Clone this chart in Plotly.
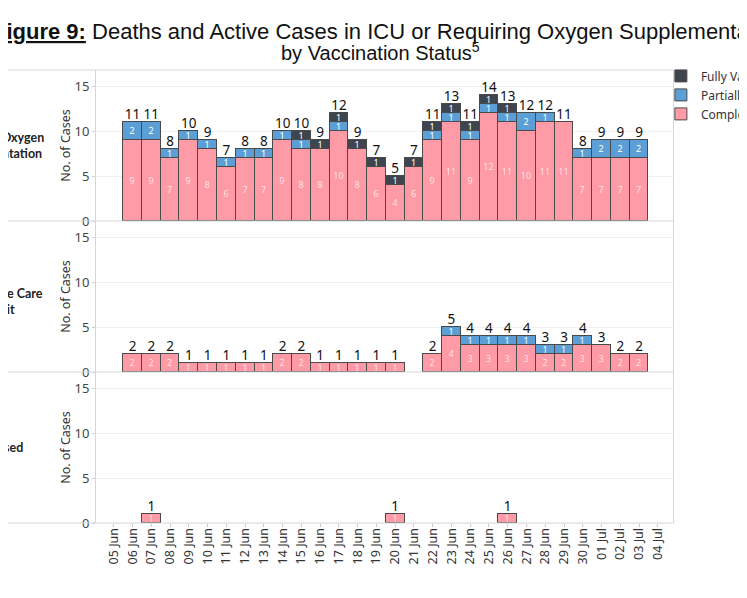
import plotly.graph_objects as go
from plotly.subplots import make_subplots

# ---- data ----
dates = ["05 Jun", "06 Jun", "07 Jun", "08 Jun", "09 Jun", "10 Jun", "11 Jun", "12 Jun",
         "13 Jun", "14 Jun", "15 Jun", "16 Jun", "17 Jun", "18 Jun", "19 Jun", "20 Jun",
         "21 Jun", "22 Jun", "23 Jun", "24 Jun", "25 Jun", "26 Jun", "27 Jun", "28 Jun",
         "29 Jun", "30 Jun", "01 Jul", "02 Jul", "03 Jul", "04 Jul"]

series_names = ["Completely Unvaccinated", "Partially Vaccinated", "Fully Vaccinated"]

oxy_unvax   = [0, 9, 9, 7, 9, 8, 6, 7, 7, 9, 8, 8, 10, 8, 6, 4, 6, 9, 11, 9, 12, 11, 10, 11, 11, 7, 7, 7, 7, 0]
oxy_partial = [0, 2, 2, 1, 1, 1, 1, 1, 1, 1, 1, 0, 1, 0, 0, 0, 0, 1, 1, 1, 1, 1, 2, 1, 0, 1, 2, 2, 2, 0]
oxy_full    = [0, 0, 0, 0, 0, 0, 0, 0, 0, 0, 1, 1, 1, 1, 1, 1, 1, 1, 1, 1, 1, 1, 0, 0, 0, 0, 0, 0, 0, 0]

icu_unvax   = [0, 2, 2, 2, 1, 1, 1, 1, 1, 2, 2, 1, 1, 1, 1, 1, 0, 2, 4, 3, 3, 3, 3, 2, 2, 3, 3, 2, 2, 0]
icu_partial = [0, 0, 0, 0, 0, 0, 0, 0, 0, 0, 0, 0, 0, 0, 0, 0, 0, 0, 1, 1, 1, 1, 1, 1, 1, 1, 0, 0, 0, 0]
icu_full    = [0] * 30

dec_unvax   = [0, 0, 1, 0, 0, 0, 0, 0, 0, 0, 0, 0, 0, 0, 0, 1, 0, 0, 0, 0, 0, 1, 0, 0, 0, 0, 0, 0, 0, 0]
dec_partial = [0] * 30
dec_full    = [0] * 30

row_labels = ["Requiring Oxygen<br>Supplementation", "Intensive Care<br>Unit", "Deceased"]
y_ticks = [0, 5, 10, 15]

# ---- styling ----
colors = ["#FF9BA6", "#5B9FD6", "#3F454F"]
inner_text_colors = ["rgba(255,255,255,0.72)", "white", "white"]
FONT = "Noto Sans, DejaVu Sans, sans-serif"
LABEL_FONT = "Lato, Noto Sans, sans-serif"

panels = [
    (oxy_unvax, oxy_partial, oxy_full),
    (icu_unvax, icu_partial, icu_full),
    (dec_unvax, dec_partial, dec_full),
]

fig = make_subplots(rows=3, cols=1, shared_xaxes=True, vertical_spacing=0)

for r, series in enumerate(panels, start=1):
    for k, vals in enumerate(series):
        yv = [v if v > 0 else None for v in vals]
        tv = [str(v) if v > 0 else "" for v in vals]
        fig.add_trace(go.Bar(
            x=dates, y=yv, text=tv, name=series_names[k],
            legendgroup=series_names[k], showlegend=(r == 1),
            marker=dict(color=colors[k], line=dict(color="#4a4a4a", width=1)),
            textposition="inside", insidetextanchor="middle", textangle=0,
            constraintext="none",
            textfont=dict(family=FONT, size=9, color=inner_text_colors[k]),
            hoverinfo="skip",
        ), row=r, col=1)
    totals = [a + b + c for a, b, c in zip(*series)]
    fig.add_trace(go.Scatter(
        x=[d for d, t in zip(dates, totals) if t > 0],
        y=[t for t in totals if t > 0],
        text=[str(t) for t in totals if t > 0],
        mode="text", textposition="top center",
        textfont=dict(family=FONT, size=13.5, color="#111"),
        showlegend=False, hoverinfo="skip", cliponaxis=False,
    ), row=r, col=1)

fig.update_layout(
    width=747, height=598,
    margin=dict(l=88, r=82.3, t=62, b=82.7, autoexpand=False),
    barmode="stack", bargap=0,
    plot_bgcolor="white", paper_bgcolor="white",
    font=dict(family=FONT, color="#333"),
    showlegend=True,
    legend=dict(x=0.979, xanchor="left", y=1.019, yanchor="top",
                traceorder="reversed", font=dict(family=FONT, size=12, color="#333"),
                bgcolor="rgba(0,0,0,0)", itemwidth=30, tracegroupgap=0),
)

for r in (1, 2, 3):
    fig.update_yaxes(
        range=[0, 16.8], tickvals=y_ticks, ticktext=[str(t) for t in y_ticks],
        showgrid=True, gridcolor="#efefef", gridwidth=1, zeroline=False,
        showline=True, linecolor="#d6d6d6", mirror=True,
        ticks="outside", ticklen=3, tickcolor="#d0d0d0",
        tickfont=dict(family=FONT, size=13, color="#444"),
        title=dict(text="No. of Cases", font=dict(family=FONT, size=12.5, color="#333"), standoff=1),
        row=r, col=1)
    fig.update_xaxes(
        type="category", categoryorder="array", categoryarray=dates,
        range=[-0.95, 29.81], showgrid=False, zeroline=False,
        showline=False,
        ticks="outside" if r == 3 else "", ticklen=3, tickcolor="#c8c8c8",
        tickangle=-90, showticklabels=(r == 3), ticklabelstandoff=-4,
        tickfont=dict(family=FONT, size=12.5, color="#333"),
        row=r, col=1)

# panel separator lines spanning the row headers
x_left = -96 / 576.7
for yy in (0, 1 / 3, 2 / 3, 1):
    fig.add_shape(type="line", xref="paper", yref="paper", x0=x_left, x1=1, y0=yy, y1=yy,
                  line=dict(color="#d6d6d6", width=1), layer="above")

# row header labels (partially outside the canvas, as in the reference)
for lbl, xc, yc in zip(row_labels, [-0.1751, -0.1613, -0.1725], [5 / 6, 0.49, 1 / 6]):
    fig.add_annotation(text="<b>" + lbl + "</b>", xref="paper", yref="paper",
                       x=xc, y=yc, xanchor="center", yanchor="middle",
                       showarrow=False, align="center",
                       font=dict(family=LABEL_FONT, size=12.5, color="#222"))

# title lines
fig.add_annotation(
    text="<b><u>Figure 9:</u></b> Deaths and Active Cases in ICU or Requiring Oxygen Supplementation",
    xref="paper", yref="paper", x=0.5074, y=1.086, xanchor="center", yanchor="middle",
    showarrow=False, font=dict(family="Liberation Sans, Arial, sans-serif", size=22, color="#111"))
fig.add_annotation(
    text="by Vaccination Status<sup>5</sup>",
    xref="paper", yref="paper", x=0.4935, y=1.040, xanchor="center", yanchor="middle",
    showarrow=False, font=dict(family="Liberation Sans, Arial, sans-serif", size=20, color="#111"))

fig.write_html("out.html")
